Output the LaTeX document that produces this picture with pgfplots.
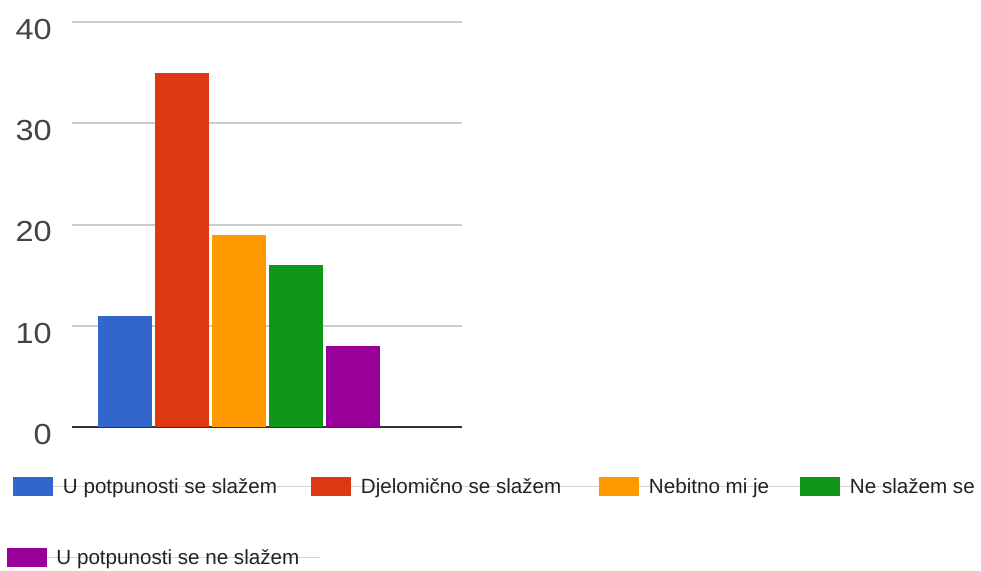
\documentclass[border=0pt]{standalone}
\usepackage{fontspec}
\setmainfont{Liberation Sans}
\usepackage{graphicx}
\usepackage{pgfplots}
\pgfplotsset{compat=1.18}
\definecolor{gblue}{HTML}{3366CC}
\definecolor{gred}{HTML}{DC3912}
\definecolor{gorange}{HTML}{FF9900}
\definecolor{ggreen}{HTML}{109618}
\definecolor{gpurple}{HTML}{990099}
\definecolor{gridc}{HTML}{CCCCCC}
\definecolor{baseline}{HTML}{333333}
\definecolor{tickc}{HTML}{444444}
\definecolor{legtext}{HTML}{222222}
\definecolor{legline}{HTML}{D5D5D5}
\begin{document}
\begin{tikzpicture}[x=1pt,y=1pt]
\path[use as bounding box] (0,0) rectangle (981,-570);
\begin{axis}[
  at={(72pt,-427pt)}, anchor=south west,
  scale only axis, width=390pt, height=405pt,
  xmin=0.0702, xmax=6.912, ymin=0, ymax=40,
  xtick=\empty, ytick={0,10,20,30,40},
  axis x line*=bottom, axis y line*=left,
  y axis line style={draw=none},
  x axis line style={color=baseline, line width=2.5pt},
  major tick length=0pt,
  ymajorgrids, grid style={color=gridc, line width=2pt},
  /pgf/number format/assume math mode=true,
  yticklabel={\scalebox{1.12}[1]{\pgfmathprintnumber{\tick}}},
  yticklabel style={font=\fontsize{29}{29}\selectfont, text=tickc, anchor=east, inner sep=0pt, xshift=-20pt, yshift=-7.5pt},
  clip=false,
  legend columns=4,
  legend cell align=left,
  legend style={at={(rel axis cs:-0.1667,-0.1235)}, anchor=north west, draw=none, fill=none,
    inner sep=0pt, outer sep=0pt, row sep=52pt,
    font=\fontsize{20.6}{24}\selectfont, text=legtext,
    nodes={inner sep=0pt},
    /tikz/every odd column/.append style={column sep=10pt},
    /tikz/every even column/.append style={column sep=34pt}},
]
\addplot[ybar, bar width=0.947, bar shift=0pt, fill=gblue, draw=none,
  legend image code/.code={\draw[overlay, color=legline, line width=1.5pt] (40pt,0pt) -- (298pt,0pt); \fill[gblue] (0pt,-9.5pt) rectangle (40pt,9.5pt);}]
  coordinates {(1,11)};
\addlegendentry{\makebox[214pt][l]{U potpunosti se slažem}}
\addplot[ybar, bar width=0.947, bar shift=0pt, fill=gred, draw=none,
  legend image code/.code={\draw[overlay, color=legline, line width=1.5pt] (40pt,0pt) -- (289pt,0pt); \fill[gred] (0pt,-9.5pt) rectangle (40pt,9.5pt);}]
  coordinates {(2,35)};
\addlegendentry{\makebox[204pt][l]{Djelomično se slažem}}
\addplot[ybar, bar width=0.947, bar shift=0pt, fill=gorange, draw=none,
  legend image code/.code={\draw[overlay, color=legline, line width=1.5pt] (40pt,0pt) -- (202pt,0pt); \fill[gorange] (0pt,-9.5pt) rectangle (40pt,9.5pt);}]
  coordinates {(3,19)};
\addlegendentry{\makebox[117pt][l]{Nebitno mi je}}
\addplot[ybar, bar width=0.947, bar shift=0pt, fill=ggreen, draw=none,
  legend image code/.code={\draw[overlay, color=legline, line width=1.5pt] (40pt,0pt) -- (136pt,0pt); \fill[ggreen] (0pt,-9.5pt) rectangle (40pt,9.5pt);}]
  coordinates {(4,16)};
\addlegendentry{\makebox[126pt][l]{Ne slažem se}}
\addplot[ybar, bar width=0.947, bar shift=0pt, fill=gpurple, draw=none,
  legend image code/.code={\draw[overlay, color=legline, line width=1.5pt] (34pt,0pt) -- (307pt,0pt); \fill[gpurple] (-6pt,-9.5pt) rectangle (34pt,9.5pt);}]
  coordinates {(5,8)};
\addlegendentry{\makebox[0pt][l]{\hspace*{-7pt}U potpunosti se ne slažem}}
\end{axis}
\end{tikzpicture}
\end{document}
